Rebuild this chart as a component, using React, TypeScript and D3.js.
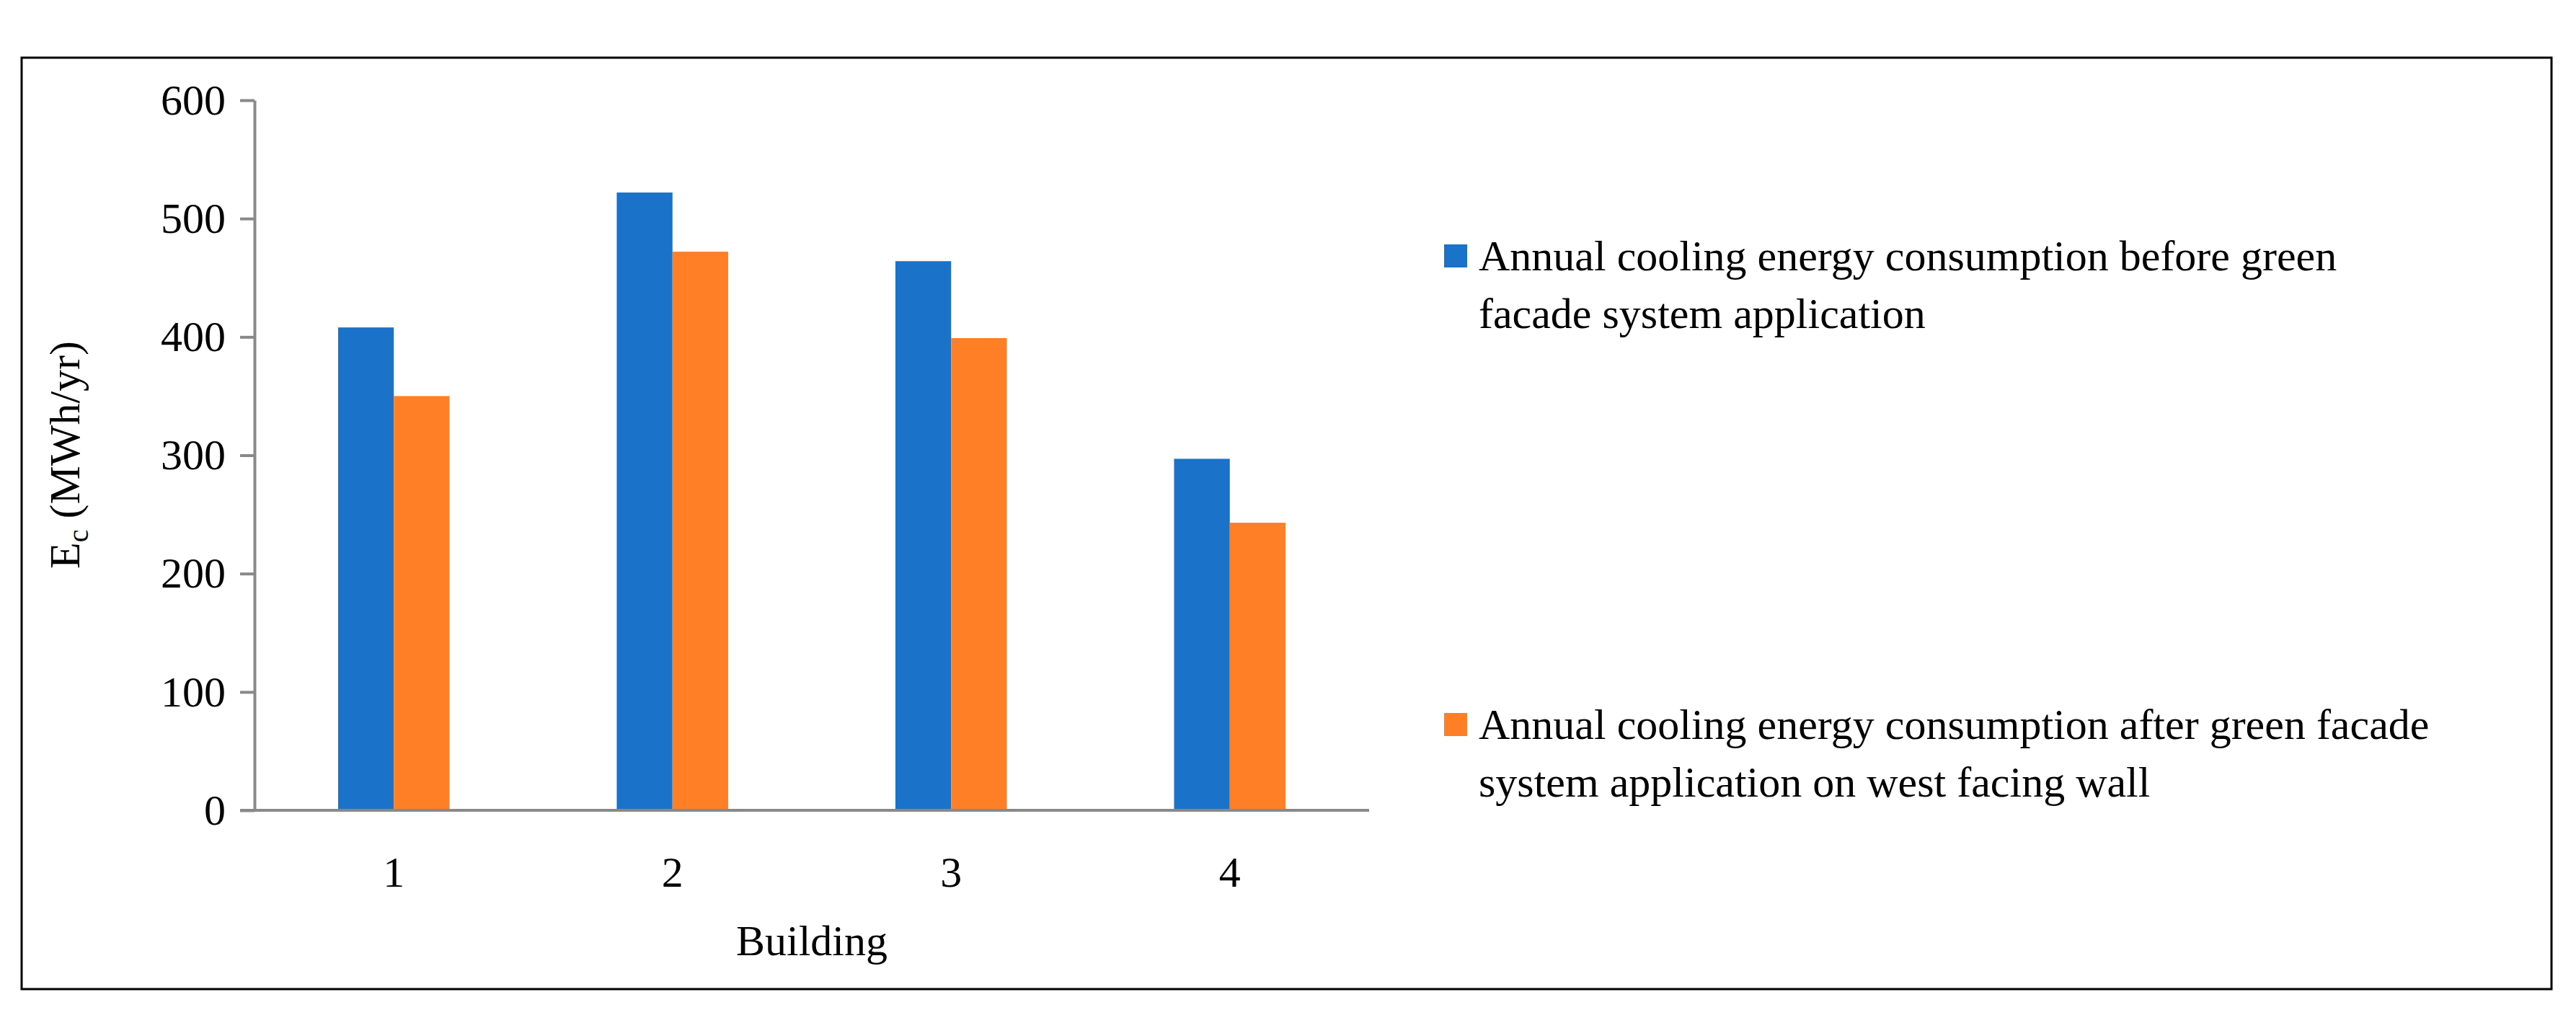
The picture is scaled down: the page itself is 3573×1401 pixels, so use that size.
import { useEffect, useRef } from 'react';
import * as d3 from 'd3';

const buildings = ['1', '2', '3', '4'];
const before = [408, 522, 464, 297];
const after = [350, 472, 399, 243];
const yTicks = [0, 100, 200, 300, 400, 500, 600];
const legendLines = [
  ['Annual cooling energy consumption before green', 'facade system application'],
  ['Annual cooling energy consumption after green facade', 'system application on west facing wall'],
];
const colors = ['#1A73C8', '#FF7F27'];

export default function App() {
  const svgRef = useRef<SVGSVGElement>(null);

  useEffect(() => {
    const svg = d3.select(svgRef.current);
    svg.selectAll('*').remove();
    const W = 3573, H = 1401;
    const font = '"Liberation Serif", "Times New Roman", serif';
    const fs = 60;
    const left = 353, right = 1899, top = 139, bottom = 1124;

    svg.append('rect').attr('x', 0).attr('y', 0).attr('width', W).attr('height', H).attr('fill', '#fff');
    svg.append('rect').attr('x', 30).attr('y', 80).attr('width', 3509).attr('height', 1292)
      .attr('fill', 'none').attr('stroke', '#000').attr('stroke-width', 3);

    const x = d3.scaleBand().domain(buildings).range([left, right]).paddingInner(0.6).paddingOuter(0.3);
    const y = d3.scaleLinear().domain([0, 600]).range([bottom, top]);
    const bw = x.bandwidth() / 2;

    [before, after].forEach((series, s) => {
      svg.append('g').selectAll('rect').data(series).enter().append('rect')
        .attr('x', (_, i) => x(buildings[i])! + s * bw)
        .attr('y', d => y(d))
        .attr('width', bw)
        .attr('height', d => bottom - y(d))
        .attr('fill', colors[s]);
    });

    // y axis
    const yAxis = svg.append('g').attr('transform', `translate(${left},0)`)
      .call(d3.axisLeft(y).tickValues(yTicks).tickSize(20).tickPadding(20).tickSizeOuter(0));
    yAxis.select('.domain').attr('stroke', '#898989').attr('stroke-width', 4);
    yAxis.selectAll('.tick line').attr('stroke', '#898989').attr('stroke-width', 4);
    yAxis.selectAll('.tick text').attr('font-family', font).attr('font-size', fs).attr('fill', '#000');

    // x axis
    svg.append('line').attr('x1', left - 20).attr('x2', right).attr('y1', bottom).attr('y2', bottom)
      .attr('stroke', '#898989').attr('stroke-width', 4);
    svg.append('g').selectAll('text').data(buildings).enter().append('text')
      .attr('x', d => x(d)! + x.bandwidth() / 2).attr('y', 1230)
      .attr('text-anchor', 'middle').attr('font-family', font).attr('font-size', fs).text(d => d);

    svg.append('text').attr('x', 1126).attr('y', 1325).attr('text-anchor', 'middle')
      .attr('font-family', font).attr('font-size', fs).text('Building');

    const yt = svg.append('text').attr('transform', 'translate(110,631) rotate(-90)')
      .attr('text-anchor', 'middle').attr('font-family', font).attr('font-size', fs);
    yt.append('tspan').text('E');
    yt.append('tspan').attr('font-size', 40).attr('dy', 12).text('c');
    yt.append('tspan').attr('dy', -12).text(' (MWh/yr)');

    // legend
    const ly = [355, 1005];
    legendLines.forEach((lines, i) => {
      svg.append('rect').attr('x', 2003).attr('y', ly[i] - 16).attr('width', 32).attr('height', 32).attr('fill', colors[i]);
      lines.forEach((t, j) => {
        svg.append('text').attr('x', 2051).attr('y', ly[i] + 20 + j * 80)
          .attr('font-family', font).attr('font-size', fs).text(t);
      });
    });
  }, []);

  return <svg ref={svgRef} width={3573} height={1401} style={{ position: 'absolute', left: 0, top: 0 }} />;
}
